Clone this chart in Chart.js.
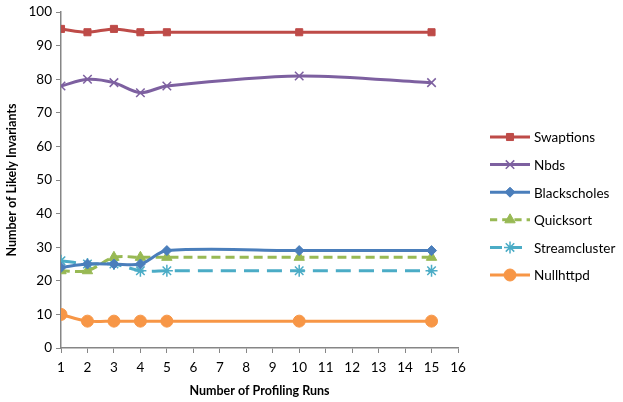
<!DOCTYPE html>
<html><head><meta charset="utf-8">
<script src="https://cdn.jsdelivr.net/npm/chart.js@4/dist/chart.umd.min.js"></script>
<style>html,body{margin:0;padding:0;background:#fff}#wrap{width:623px;height:402px}</style>
</head><body><div id="wrap"><canvas id="c" width="623" height="402"></canvas></div>
<script>
const runs = [1, 2, 3, 4, 5, 10, 15];
const swaptions = [95, 94, 95, 94, 94, 94, 94];
const nbds = [78, 80, 79, 76, 78, 81, 79];
const blackscholes = [24, 25, 25, 25, 29, 29, 29];
const quicksort = [23, 23, 27, 27, 27, 27, 27];
const streamcluster = [26, 25, 25, 23, 23, 23, 23];
const nullhttpd = [10, 8, 8, 8, 8, 8, 8];
const seriesNames = ['Swaptions', 'Nbds', 'Blackscholes', 'Quicksort', 'Streamcluster', 'Nullhttpd'];

const FONT = 'Lato, "Open Sans", sans-serif';
function pts(vals){ return runs.map((x,i)=>({x:x,y:vals[i]})); }
function ds(label, vals, color, style, radius, dash){
  return {label, data: pts(vals), borderColor: color, backgroundColor: color,
    borderWidth: 3, pointStyle: style, pointRadius: radius, pointBorderColor: color,
    pointBackgroundColor: color, pointBorderWidth: style==='crossRot'||style==='star'?1.5:1,
    borderDash: dash||[], tension: 0.3, fill:false};
}
const datasets = [
  ds(seriesNames[0], swaptions, '#BE4B48', 'rect', 5),
  ds(seriesNames[1], nbds, '#7D60A0', 'crossRot', 6),
  ds(seriesNames[2], blackscholes, '#4A7EBB', 'rectRot', 5),
  ds(seriesNames[3], quicksort, '#98B954', 'triangle', 6, [9,5]),
  ds(seriesNames[4], streamcluster, '#4BACC6', 'star', 6, [15,8]),
  ds(seriesNames[5], nullhttpd, '#F79646', 'circle', 6)
];

const legendPlugin = {
  id: 'sideLegend',
  afterDraw(chart){
    const ctx = chart.ctx;
    chart.data.datasets.forEach((d,i)=>{
      const y = 137 + i*27.6;
      ctx.save();
      ctx.strokeStyle = d.borderColor; ctx.lineWidth = 3;
      ctx.setLineDash(d.borderDash && d.borderDash.length ? [d.borderDash[0]*0.8, d.borderDash[1]] : []);
      ctx.beginPath(); ctx.moveTo(490,y); ctx.lineTo(530,y); ctx.stroke();
      ctx.setLineDash([]);
      ctx.fillStyle = d.borderColor; ctx.strokeStyle = d.borderColor; ctx.lineWidth = d.pointBorderWidth;
      Chart.helpers.drawPoint(ctx, {pointStyle:d.pointStyle, radius:d.pointRadius, rotation:0, borderWidth:d.pointBorderWidth}, 510, y);
      ctx.fillStyle = '#000'; ctx.font = '13.5px ' + FONT; ctx.textBaseline='middle';
      ctx.fillText(d.label, 534, y+1);
      ctx.restore();
    });
  }
};

new Chart(document.getElementById('c'), {
  type: 'line',
  data: { datasets },
  plugins: [legendPlugin],
  options: {
    responsive: false, animation: false,
    layout: { padding: { top: 11, right: 165, left: 0, bottom: 0 } },
    plugins: { legend: { display: false }, tooltip: { enabled: false } },
    scales: {
      x: { type: 'linear', min: 1, max: 16,
        ticks: { stepSize: 1, color: '#000', font: { size: 13.5, family: FONT }, padding: 7 },
        grid: { drawOnChartArea: false, drawTicks: true, tickLength: 5, color: '#868686' },
        border: { color: '#868686', width: 1.5 },
        title: { display: true, text: 'Number of Profiling Runs', color: '#000', font: { size: 12.5, weight: 'bold', family: FONT }, padding: { top: 5 } },
        afterFit(s){ s.height = 54; }
      },
      y: { min: 0, max: 100,
        ticks: { stepSize: 10, color: '#000', font: { size: 13.5, family: FONT }, padding: 4 },
        grid: { drawOnChartArea: false, drawTicks: true, tickLength: 5, color: '#868686' },
        border: { color: '#868686', width: 1.5 },
        title: { display: true, text: 'Number of Likely Invariants', color: '#000', font: { size: 12.5, weight: 'bold', family: FONT }, padding: { bottom: 2 } },
        afterFit(s){ s.width = 61; }
      }
    }
  }
});
</script></body></html>
